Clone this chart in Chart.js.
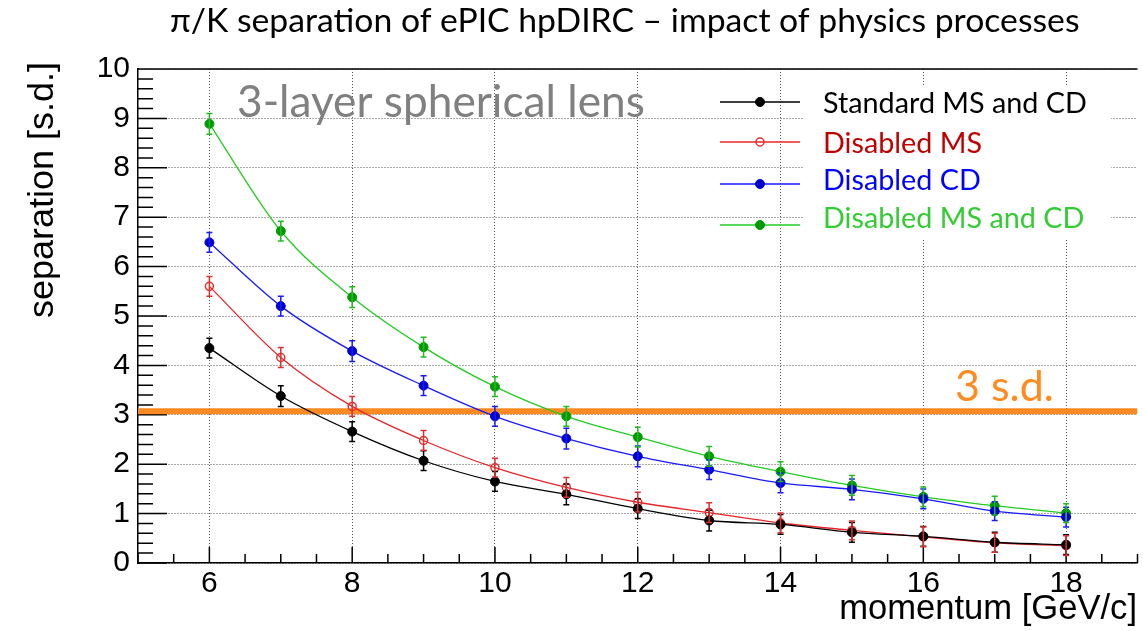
<!DOCTYPE html>
<html>
<head>
<meta charset="utf-8">
<script src="https://cdn.jsdelivr.net/npm/chart.js@4.4.0/dist/chart.umd.min.js"></script>
<style>
  html, body { margin: 0; padding: 0; background: #fff; }
  #wrap { width: 1143px; height: 631px; }
</style>
</head>
<body>
<div id="wrap"><canvas id="sepChart" width="1143" height="631"></canvas></div>
<script>
// momentum points [GeV/c]
const momentum = [6, 7, 8, 9, 10, 11, 12, 13, 14, 15, 16, 17, 18];

// pi/K separation [s.d.]
const standardMSCD = [4.35, 3.38, 2.66, 2.07, 1.65, 1.39, 1.10, 0.86, 0.78, 0.62, 0.54, 0.42, 0.37];
const disabledMS   = [5.60, 4.16, 3.17, 2.48, 1.93, 1.53, 1.23, 1.02, 0.81, 0.66, 0.53, 0.41, 0.35];
const disabledCD   = [6.49, 5.20, 4.29, 3.59, 2.97, 2.52, 2.16, 1.89, 1.62, 1.49, 1.30, 1.05, 0.93];
const disabledMSCD = [8.89, 6.72, 5.38, 4.37, 3.57, 2.97, 2.55, 2.16, 1.85, 1.57, 1.34, 1.16, 1.01];

// error bars (half length, s.d.)
const errStandard  = [0.20, 0.21, 0.20, 0.20, 0.20, 0.21, 0.20, 0.21, 0.20, 0.20, 0.20, 0.20, 0.20];
const errMS        = [0.20, 0.20, 0.20, 0.20, 0.19, 0.20, 0.20, 0.20, 0.20, 0.19, 0.20, 0.19, 0.20];
const errCD        = [0.20, 0.20, 0.21, 0.20, 0.20, 0.21, 0.21, 0.20, 0.20, 0.21, 0.20, 0.19, 0.20];
const errMSCD      = [0.21, 0.20, 0.21, 0.20, 0.20, 0.20, 0.20, 0.20, 0.20, 0.20, 0.20, 0.19, 0.19];

// 3 s.d. reference line
const thresholdLine = [3.07, 3.07];
const thresholdX = [5, 19];

// tick labels
const xTickValues = [6, 8, 10, 12, 14, 16, 18];
const yTickValues = [0, 1, 2, 3, 4, 5, 6, 7, 8, 9, 10];

const seriesLabels = ['Standard MS and CD', 'Disabled MS', 'Disabled CD', 'Disabled MS and CD'];

function toPoints(xs, ys) {
    return xs.map((x, i) => ({ x: x, y: ys[i] }));
}

// font size that makes text fill the given width
function fitSize(ctx, text, family, width) {
    ctx.font = '100px ' + family;
    return 100 * width / ctx.measureText(text).width;
}

// error bars for datasets having an "errors" array
const errorBarPlugin = {
    id: 'errorBars',
    afterDatasetsDraw(chart) {
        const ctx = chart.ctx;
        const yScale = chart.scales.y;
        chart.data.datasets.forEach((ds, i) => {
            if (!ds.errors) return;
            const meta = chart.getDatasetMeta(i);
            ctx.save();
            ctx.strokeStyle = ds.errorColor;
            ctx.lineWidth = 1.5;
            meta.data.forEach((pt, j) => {
                const v = ds.data[j].y;
                const top = yScale.getPixelForValue(v + ds.errors[j]);
                const bot = yScale.getPixelForValue(v - ds.errors[j]);
                ctx.beginPath();
                ctx.moveTo(pt.x, top); ctx.lineTo(pt.x, bot);
                ctx.moveTo(pt.x - 3, top); ctx.lineTo(pt.x + 3, top);
                ctx.moveTo(pt.x - 3, bot); ctx.lineTo(pt.x + 3, bot);
                ctx.stroke();
            });
            ctx.restore();
        });
    }
};

// ROOT style frame: inner tick marks, top line, white box behind legend text
const framePlugin = {
    id: 'rootFrame',
    beforeDatasetsDraw(chart) {
        const ctx = chart.ctx;
        const a = chart.chartArea;
        const xs = chart.scales.x, ys = chart.scales.y;
        ctx.save();
        ctx.fillStyle = '#fff';
        ctx.fillRect(803, 85, 308, 153);

        ctx.strokeStyle = '#000';
        ctx.lineWidth = 1.5;
        ctx.beginPath();
        ctx.moveTo(a.left, a.top); ctx.lineTo(a.right, a.top);
        // x ticks every 0.5
        for (let v = 5; v <= 19.001; v += 0.5) {
            const px = xs.getPixelForValue(v);
            const len = (Math.abs(v % 2) < 0.01) ? 16 : 9;
            ctx.moveTo(px, a.bottom); ctx.lineTo(px, a.bottom - len);
        }
        // y ticks every 0.2
        for (let k = 0; k <= 50; k++) {
            const py = ys.getPixelForValue(k * 0.2);
            const len = (k % 5 === 0) ? 29 : 15;
            ctx.moveTo(a.left, py); ctx.lineTo(a.left + len, py);
        }
        ctx.stroke();
        ctx.restore();
    }
};

const legendRows = [102, 142, 184, 225];
const legendTextBase = [113, 153, 190, 228];
const legendTextColors = ['#000000', '#c00000', '#0000ff', '#33cc33'];

const textPlugin = {
    id: 'texts',
    afterDraw(chart) {
        const ctx = chart.ctx;
        ctx.save();
        ctx.textBaseline = 'alphabetic';
        ctx.textAlign = 'left';

        // title
        const title = 'π/K separation of ePIC hpDIRC – impact of physics processes';
        let s = fitSize(ctx, title, 'Lato', 910);
        ctx.font = s + 'px Lato';
        ctx.fillStyle = '#000';
        ctx.fillText(title, 170, 32);

        // lens label
        const lens = '3-layer spherical lens';
        s = fitSize(ctx, lens, 'Lato', 408);
        ctx.font = s + 'px Lato';
        ctx.fillStyle = '#808080';
        ctx.fillText(lens, 237, 117);

        // 3 s.d. label
        s = fitSize(ctx, '3 s.d.', 'Lato', 99);
        ctx.font = s + 'px Lato';
        ctx.fillStyle = '#ff8a1f';
        ctx.fillText('3 s.d.', 955, 401);

        // axis titles
        const xt = 'momentum [GeV/c]';
        s = fitSize(ctx, xt, '"Liberation Sans"', 298);
        ctx.font = s + 'px "Liberation Sans"';
        ctx.fillStyle = '#000';
        ctx.textAlign = 'right';
        ctx.fillText(xt, 1137, 619);

        const yt = 'separation [s.d.]';
        s = fitSize(ctx, yt, '"Liberation Sans"', 256);
        ctx.font = s + 'px "Liberation Sans"';
        ctx.translate(53, 62);
        ctx.rotate(-Math.PI / 2);
        ctx.textAlign = 'right';
        ctx.fillText(yt, 0, 0);
        ctx.setTransform(1, 0, 0, 1, 0, 0);

        // legend
        const ls = fitSize(ctx, seriesLabels[0], 'Lato', 264);
        ctx.textAlign = 'left';
        for (let i = 0; i < 4; i++) {
            const ds = chart.data.datasets[i];
            const y = legendRows[i];
            ctx.strokeStyle = ds.borderColor;
            ctx.lineWidth = 1.5;
            ctx.beginPath();
            ctx.moveTo(720, y); ctx.lineTo(800, y);
            ctx.stroke();
            ctx.beginPath();
            ctx.arc(760, y, ds.pointRadius, 0, Math.PI * 2);
            ctx.fillStyle = ds.pointBackgroundColor;
            ctx.fill();
            ctx.strokeStyle = ds.pointBorderColor;
            ctx.lineWidth = ds.pointBorderWidth;
            ctx.stroke();

            ctx.font = ls + 'px Lato';
            ctx.fillStyle = legendTextColors[i];
            ctx.fillText(seriesLabels[i], 823, legendTextBase[i]);
        }
        ctx.restore();
    }
};

function makeSeries(label, values, errors, lineColor, markerColor, errColor, hollow) {
    return {
        label: label,
        data: toPoints(momentum, values),
        errors: errors,
        errorColor: errColor,
        borderColor: lineColor,
        borderWidth: 1.3,
        pointRadius: hollow ? 4 : 4.5,
        pointBackgroundColor: hollow ? 'rgba(0,0,0,0)' : markerColor,
        pointBorderColor: markerColor,
        pointBorderWidth: hollow ? 1.5 : 1,
        cubicInterpolationMode: 'monotone',
        fill: false,
        order: 0
    };
}

const datasets = [
    makeSeries(seriesLabels[0], standardMSCD, errStandard, '#000000', '#000000', '#000000', false),
    makeSeries(seriesLabels[1], disabledMS, errMS, '#e8262a', '#e03030', '#e03030', true),
    makeSeries(seriesLabels[2], disabledCD, errCD, '#1a1aff', '#0000cc', '#1a1aff', false),
    makeSeries(seriesLabels[3], disabledMSCD, errMSCD, '#22cc22', '#009900', '#22bb22', false),
    {
        label: '3 s.d.',
        data: toPoints(thresholdX, thresholdLine),
        borderColor: '#fb8a22',
        borderWidth: 6,
        pointRadius: 0,
        fill: false,
        order: 5
    }
];

const ctx = document.getElementById('sepChart').getContext('2d');
new Chart(ctx, {
    type: 'line',
    data: { datasets: datasets },
    options: {
        responsive: false,
        animation: false,
        devicePixelRatio: 1,
        layout: { padding: { top: 69, left: 0, right: 0, bottom: 0 } },
        plugins: {
            legend: { display: false },
            tooltip: { enabled: false },
            title: { display: false }
        },
        scales: {
            x: {
                type: 'linear',
                min: 5,
                max: 19,
                afterBuildTicks: (s) => { s.ticks = xTickValues.map(v => ({ value: v })); },
                afterFit: (s) => { s.height = 68; },
                grid: { color: '#555555', lineWidth: 1, drawTicks: false },
                border: { display: true, color: '#000', width: 1.5, dash: [1, 2] },
                ticks: { color: '#000', font: { family: 'Liberation Sans', size: 30 }, padding: 3, maxRotation: 0 }
            },
            y: {
                type: 'linear',
                min: 0,
                max: 10,
                afterBuildTicks: (s) => { s.ticks = yTickValues.map(v => ({ value: v })); },
                afterFit: (s) => { s.width = 138; },
                grid: { color: '#555555', lineWidth: 1, drawTicks: false },
                border: { display: true, color: '#000', width: 1.5, dash: [1, 2] },
                ticks: { color: '#000', font: { family: 'Liberation Sans', size: 30 }, padding: 8 }
            }
        }
    },
    plugins: [framePlugin, errorBarPlugin, textPlugin]
});
</script>
</body>
</html>
